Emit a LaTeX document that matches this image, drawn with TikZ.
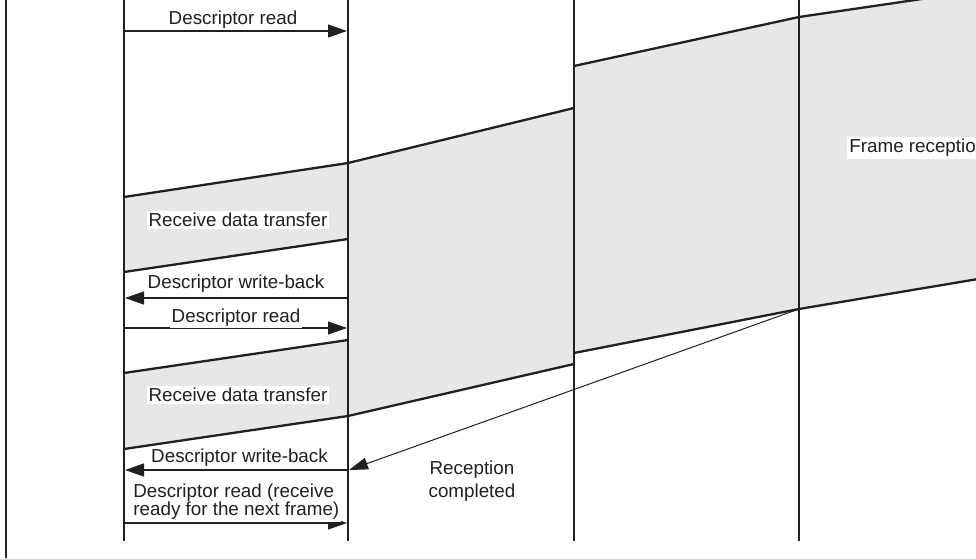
\documentclass[tikz,border=0pt]{standalone}
\usepackage{fontspec}
\setmainfont{Liberation Sans}
\usetikzlibrary{arrows.meta}
\definecolor{band}{HTML}{E6E7E9}
\definecolor{ink}{HTML}{231F20}
\begin{document}
\begin{tikzpicture}[x=0.5pt,y=-0.5pt,
  lifeline/.style={draw=ink,line width=1.15pt},
  edgeline/.style={draw=ink,line width=1.15pt},
  bandfill/.style={fill=band},
  msg/.style={draw=ink,line width=0.6pt,-{Triangle[length=9.5pt,width=6.5pt]}},
  thinmsg/.style={draw=ink,line width=0.5pt,-{Triangle[length=9.5pt,width=6pt]}},
  lbl/.style={font=\fontsize{9.4}{11}\selectfont,text=ink,fill=white,inner sep=1pt},
]
\useasboundingbox (0,0) rectangle (976,558);
\clip (0,0) rectangle (976,558);

% lifeline end points
\coordinate (Lt) at (6,0);   \coordinate (Lb) at (6,558);
\coordinate (At) at (124,0); \coordinate (Ab) at (124,541);
\coordinate (Bt) at (348,0); \coordinate (Bb) at (348,541);
\coordinate (Ct) at (574,0); \coordinate (Cb) at (574,541);
\coordinate (Dt) at (799,0); \coordinate (Db) at (799,541);

% grey bands
\fill[bandfill] (124,197) -- (348,163) -- (348,239) -- (124,272) -- cycle;
\fill[bandfill] (124,373) -- (348,340) -- (348,416) -- (124,449) -- cycle;
\fill[bandfill] (348,163) -- (574,108) -- (574,364) -- (348,416) -- cycle;
\fill[bandfill] (574,66) -- (799,17) -- (799,309) -- (574,353) -- cycle;
\fill[bandfill] (799,17) -- (990,-11) -- (990,277) -- (799,309) -- cycle;

% band edges
\draw[edgeline] (124,197) -- (348,163) -- (574,108);
\draw[edgeline] (124,272) -- (348,239);
\draw[edgeline] (124,373) -- (348,340);
\draw[edgeline] (124,449) -- (348,416) -- (574,364);
\draw[edgeline] (574,66) -- (799,17) -- (990,-11);
\draw[edgeline] (574,353) -- (799,309) -- (990,277);

% lifelines
\draw[lifeline] (Lt) -- (Lb);
\draw[lifeline] (At) -- (Ab);
\draw[lifeline] (Bt) -- (Bb);
\draw[lifeline] (Ct) -- (Cb);
\draw[lifeline] (Dt) -- (Db);

% message end points
\coordinate (m1a) at (124,31);  \coordinate (m1b) at (347,31);
\coordinate (m2a) at (348,298); \coordinate (m2b) at (125,298);
\coordinate (m3a) at (124,328); \coordinate (m3b) at (347,328);
\coordinate (m4a) at (348,470); \coordinate (m4b) at (125,470);
\coordinate (m5a) at (124,523); \coordinate (m5b) at (347,523);
\coordinate (rc)  at (799,309); \coordinate (rcend) at (349,470);

\draw[msg] (m1a) -- (m1b);
\draw[msg] (m2a) -- (m2b);
\draw[msg] (m3a) -- (m3b);
\draw[msg] (m4a) -- (m4b);
\draw[msg] (m5a) -- (m5b);
\draw[thinmsg] (rc) -- (rcend);

% labels
\node[lbl,anchor=base] (t1) at (233,24.5) {Descriptor read};
\node[lbl,anchor=base] (t2) at (238,226.7) {Receive data transfer};
\node[lbl,anchor=base] (t3) at (236,288) {Descriptor write-back};
\node[lbl,anchor=base] (t4) at (236,322) {Descriptor read};
\node[lbl,anchor=base] (t5) at (238,401.7) {Receive data transfer};
\node[lbl,anchor=base] (t6) at (239.5,462.3) {Descriptor write-back};
\node[lbl,anchor=west,align=left,font=\fontsize{9.4}{9}\selectfont] (t7) at (131,502) {Descriptor read (receive\\ready for the next frame)};
\node[lbl,align=center,font=\fontsize{9.4}{11.5}\selectfont] (t8) at (472,481) {Reception\\completed};
\node[lbl,anchor=base west] (t9) at (847,152.7) {Frame reception};
\end{tikzpicture}
\end{document}
